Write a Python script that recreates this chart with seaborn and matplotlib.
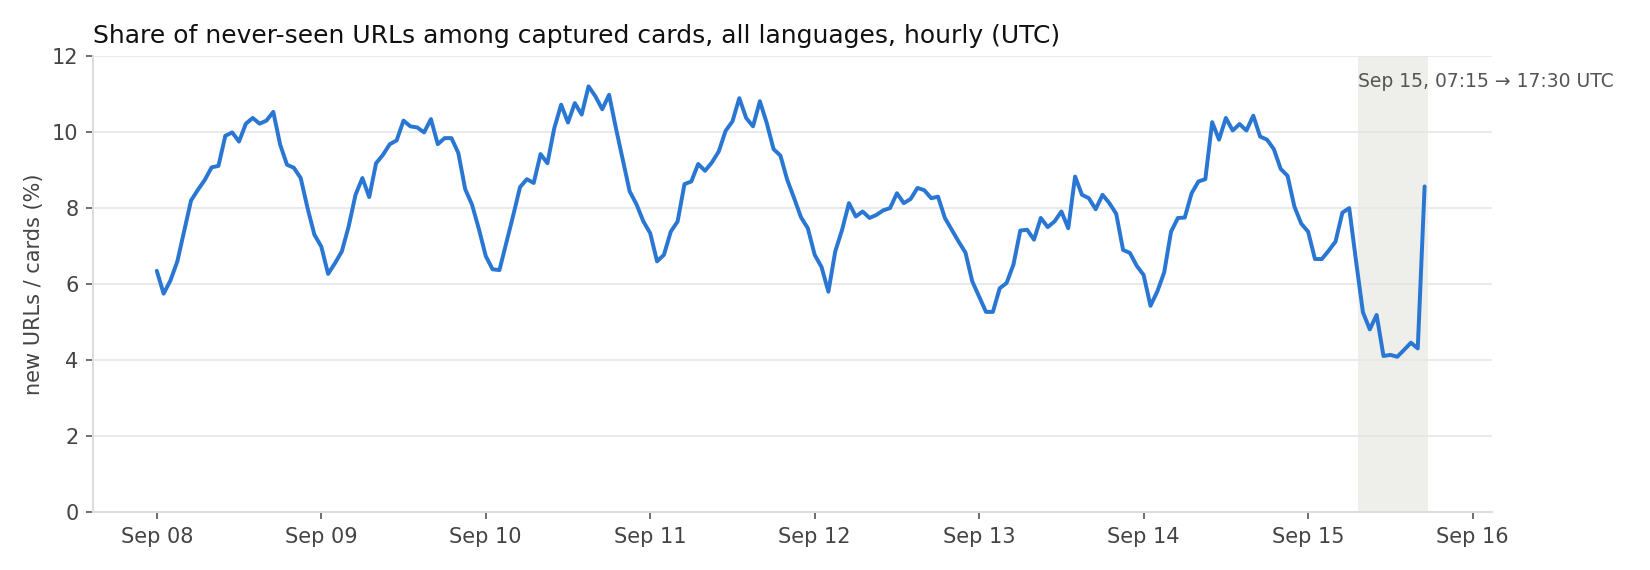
import pandas as pd
import numpy as np
import matplotlib
matplotlib.use("Agg")
import matplotlib.pyplot as plt
import matplotlib.dates as mdates
import seaborn as sns

# hourly share of never-seen URLs (%), starting Sep 08 00:00 UTC
start = "2025-09-08 00:00"
share = [
    6.35, 5.75, 6.1, 6.6, 7.4, 8.2, 8.48, 8.74, 9.07, 9.11, 9.9, 9.99,
    9.75, 10.22, 10.37, 10.22, 10.3, 10.53, 9.67, 9.14, 9.06, 8.79, 8.0, 7.3,
    6.99, 6.27, 6.55, 6.86, 7.52, 8.35, 8.79, 8.29, 9.18, 9.4, 9.68, 9.78,
    10.3, 10.15, 10.12, 9.99, 10.34, 9.68, 9.84, 9.84, 9.45, 8.5, 8.09, 7.45,
    6.74, 6.39, 6.37, 7.08, 7.8, 8.55, 8.76, 8.66, 9.42, 9.18, 10.1, 10.72,
    10.25, 10.76, 10.46, 11.2, 10.94, 10.6, 10.98, 10.1, 9.27, 8.44, 8.1, 7.65,
    7.34, 6.6, 6.77, 7.38, 7.65, 8.63, 8.7, 9.16, 8.98, 9.2, 9.49, 10.03,
    10.28, 10.89, 10.37, 10.15, 10.81, 10.24, 9.55, 9.38, 8.74, 8.26, 7.76, 7.47,
    6.77, 6.45, 5.8, 6.86, 7.43, 8.13, 7.78, 7.91, 7.74, 7.82, 7.94, 8.0,
    8.39, 8.13, 8.24, 8.53, 8.47, 8.26, 8.3, 7.74, 7.43, 7.12, 6.83, 6.07,
    5.67, 5.27, 5.27, 5.89, 6.03, 6.51, 7.41, 7.43, 7.17, 7.74, 7.5, 7.65,
    7.91, 7.47, 8.83, 8.35, 8.26, 7.97, 8.35, 8.13, 7.85, 6.9, 6.82, 6.48,
    6.24, 5.43, 5.81, 6.31, 7.38, 7.74, 7.75, 8.39, 8.7, 8.76, 10.26, 9.8,
    10.37, 10.04, 10.21, 10.04, 10.43, 9.88, 9.8, 9.55, 9.03, 8.85, 8.04, 7.59,
    7.38, 6.66, 6.66, 6.88, 7.12, 7.88, 8.0, 6.6, 5.26, 4.81, 5.19, 4.11,
    4.14, 4.09, 4.27, 4.46, 4.31, 8.57,
]
times = pd.date_range(start, periods=len(share), freq="h")

window_start = pd.Timestamp("2025-09-15 07:15")
window_end = pd.Timestamp("2025-09-15 17:30")
window_label = "Sep 15, 07:15 \u2192 17:30 UTC"

df = pd.DataFrame({"time": times, "share": share})

sns.set_theme(style="white")
plt.rcParams["font.family"] = ["DejaVu Sans"]

fig = plt.figure(figsize=(11, 3.8), dpi=150)
ax = fig.add_axes([0.0565, 0.1012, 0.8475, 0.8006])

ax.axvspan(window_start, window_end, color="#eeeeeb", zorder=0, lw=0)

sns.lineplot(data=df, x="time", y="share", ax=ax, color="#2a77d3", linewidth=1.9, zorder=3)

ax.text(window_start, 0.965, window_label, transform=ax.get_xaxis_transform(),
        ha="left", va="top", fontsize=9, color="#555555", clip_on=False)

ax.set_ylim(0, 12)
ax.set_yticks(np.arange(0, 13, 2))
ax.xaxis.set_major_locator(mdates.DayLocator())
ax.xaxis.set_major_formatter(mdates.DateFormatter("%b %d"))

ax.grid(axis="y", color="#e6e6e6", linewidth=0.8)
ax.grid(axis="x", visible=False)
ax.set_axisbelow(True)

for side in ["top", "right"]:
    ax.spines[side].set_visible(False)
for side in ["left", "bottom"]:
    ax.spines[side].set_color("#dddddd")
    ax.spines[side].set_linewidth(1.0)

ax.tick_params(axis="both", which="major", bottom=True, left=True, length=3.5, width=0.8,
               color="#555555", labelcolor="#444444", labelsize=10)

ax.set_xlabel("")
ax.set_ylabel("new URLs / cards (%)", fontsize=10, color="#444444")
ax.set_title("Share of never-seen URLs among captured cards, all languages, hourly (UTC)",
             loc="left", fontsize=12, color="#111111")

fig.savefig("out.png", dpi=150)
